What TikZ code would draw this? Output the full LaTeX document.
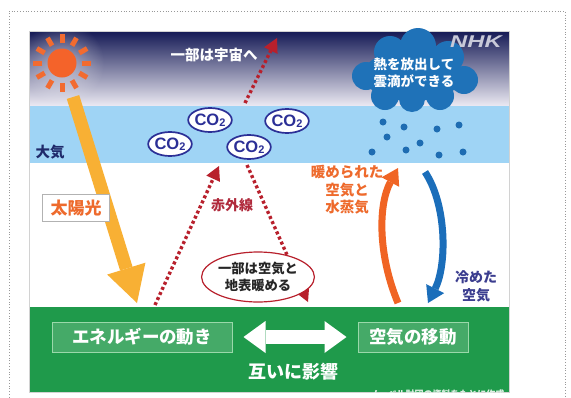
\documentclass[tikz,border=0pt]{standalone}
\usepackage{fontspec}
\newfontfamily\jp{Noto Sans CJK JP}
\newfontfamily\lat{Liberation Sans}
\usetikzlibrary{arrows.meta,shapes.geometric,calc,fadings}

\definecolor{skytop}{HTML}{141955}
\definecolor{skymid}{HTML}{5E629A}
\definecolor{skylow}{HTML}{ECEAF3}
\definecolor{airblue}{HTML}{9FD4F5}
\definecolor{ground}{HTML}{1F9A4B}
\definecolor{groundbox}{HTML}{45AA68}
\definecolor{groundedge}{HTML}{9AD8AA}
\definecolor{sunbody}{HTML}{F4632A}
\definecolor{sunray}{HTML}{F26B30}
\definecolor{sunbeam}{HTML}{F8B034}
\definecolor{irred}{HTML}{B8202C}
\definecolor{irtext}{HTML}{B02A3C}
\definecolor{cotwo}{HTML}{2B2F96}
\definecolor{cloudblue}{HTML}{1F72B8}
\definecolor{dropblue}{HTML}{1E6CB2}
\definecolor{warm}{HTML}{F06424}
\definecolor{warmtext}{HTML}{EE6A2C}
\definecolor{cool}{HTML}{1B6EBA}
\definecolor{cooltext}{HTML}{3B3D8F}
\definecolor{airtext}{HTML}{1F2A6B}
\definecolor{logo}{HTML}{C8C9D8}

\tikzfading[name=sunhalo, inner color=transparent!0, outer color=transparent!100]

\tikzset{
  jptext/.style={font=\jp\bfseries\fontsize{#1}{#1}\selectfont, align=center, inner sep=0pt},
  jptext/.default=14,
  co2/.style={ellipse, draw=cotwo, line width=1.7pt, fill=white, minimum width=42pt,
    minimum height=24pt, inner sep=0pt, text=cotwo, font=\lat\bfseries\fontsize{16.5}{16.5}\selectfont},
  irarrow/.style={draw=irred, line width=3.4pt, dash pattern=on 3pt off 2.6pt,
    -{Triangle[length=14pt,width=15pt,line width=0pt]}},
  greenbox/.style={draw=groundedge, line width=1pt, fill=groundbox, minimum height=30pt,
    text=white, jptext=17.5},
  drop/.style={fill=dropblue, draw=none, circle, minimum size=7pt, inner sep=0pt},
  ray/.style={draw=sunray, line width=5pt}
}
\newcommand{\cotwo}{CO\raisebox{-1.5pt}{\fontsize{11}{11}\selectfont 2}}

\begin{document}
\begin{tikzpicture}[x=1pt,y=-1pt]
\useasboundingbox (0,0) rectangle (571,397);

% outer dotted frame
\draw[gray!80, dotted, line width=0.8pt] (9,420) -- (9,11) -- (565,11) -- (565,420);

% bands: sky, atmosphere, open air, ground
\shade[top color=skytop, middle color=skymid, bottom color=skylow] (29,31) rectangle (509,106);
\fill[airblue] (29,106) rectangle (509,163);
\fill[white] (29,163) rectangle (509,307);
\fill[ground] (29,307) rectangle (509,392);
\draw[gray!35, line width=0.6pt] (29,31) rectangle (509,392);

% sun with a faint halo
\begin{scope}
  \clip (29,31) rectangle (509,106);
  \fill[white, opacity=0.45, path fading=sunhalo] (62,63) circle (42);
\end{scope}
\foreach \a in {0,30,...,330}
  \draw[ray] ($(62,63)+(\a:20)$) -- ($(62,63)+(\a:29)$);
\fill[sunbody] (62,63) circle (14.5);

% sunlight beam
\coordinate (beamstart) at (73,97);
\coordinate (beamend) at (137,303);
\draw[sunbeam, line width=13pt, -{Triangle[length=36pt,width=40pt,line width=0pt]}] (beamstart) -- (beamend);
\node[draw=gray!60, line width=0.8pt, fill=white, minimum width=67pt, minimum height=27pt,
  text=warmtext, jptext=17] (sunlabel) at (76,208) {太陽光};

% cloud
\begin{scope}[fill=cloudblue]
  \fill (413,75) ellipse (50 and 26);
  \fill (390,52) circle (16);
  \fill (418,46) circle (18);
  \fill (448,57) circle (16);
  \fill (366,76) circle (14);
  \fill (464,80) circle (14);
  \fill (385,96) circle (14);
  \fill (412,99) circle (13);
  \fill (440,96) circle (14);
\end{scope}
\node[text=white, jptext=13.5] (cloudtext) at (414,73) {熱を放出して\\[3pt]雲滴ができる};

% droplets
\foreach \p [count=\i] in {(383,122),(404,127),(387,137),(437,129),(459,125),
                           (420,143),(406,150),(372,152),(439,155),(463,152)}
  \node[drop] (drop\i) at \p {};

% logo
\node[text=logo, font=\lat\bfseries\itshape\fontsize{17}{17}\selectfont, xscale=1.4, inner sep=0pt]
  (nhk) at (476,42) {NHK};

% infrared paths
\coordinate (irfoot) at (155,305);
\coordinate (irtop) at (219,166);
\coordinate (downstart) at (247,165);
\coordinate (downend) at (308,302);
\coordinate (spacestart) at (245,103);
\coordinate (spaceend) at (277,38);
\draw[irarrow] (irfoot) -- (irtop);
\draw[irarrow] (downstart) -- (downend);
\draw[irarrow] (spacestart) -- (spaceend);

% CO2 molecules
\node[co2] (coA) at (210,120) {\cotwo};
\node[co2] (coB) at (170,144) {\cotwo};
\node[co2] (coC) at (249,147) {\cotwo};
\node[co2] (coD) at (287,121) {\cotwo};

% labels
\node[text=white, jptext=14.5] (space) at (214,55) {一部は宇宙へ};
\node[text=airtext, jptext=14.5] (atmos) at (50,152) {大気};
\node[text=irtext, jptext=14] (irlabel) at (232,205) {赤外線};
\node[ellipse, draw=irred, line width=1.2pt, fill=white, minimum width=100pt, minimum height=50pt,
  text=black!85, jptext=13.3] (warmpart) at (258,277) {一部は空気と\\[4pt]地表暖める};

% rising warm air and sinking cool air
\coordinate (warmfoot) at (398,303);
\coordinate (warmtip) at (398,168);
\coordinate (coolstart) at (425,172);
\coordinate (cooltip) at (428,303);
\draw[warm, line width=7pt, -{Triangle[length=16pt,width=20pt,line width=0pt]}]
  (warmfoot) .. controls (378,255) and (378,205) .. (warmtip);
\draw[cool, line width=7pt, -{Triangle[length=16pt,width=20pt,line width=0pt]}]
  (coolstart) .. controls (447,205) and (447,265) .. (cooltip);
\node[text=warmtext, jptext=14.5] (warmlabel) at (347,190) {暖められた\\[3pt]空気と\\[3pt]水蒸気};
\node[text=cooltext, jptext=14] (coollabel) at (476,286) {冷めた\\[4pt]空気};

% ground panel
\node[greenbox, minimum width=180pt] (energy) at (142,337) {エネルギーの動き};
\node[greenbox, minimum width=110pt] (airmove) at (413,337) {空気の移動};
\path (energy.east) ++(11,0) coordinate (linkL);
\path (airmove.west) ++(-11,0) coordinate (linkR);
\draw[white, line width=14pt, {Triangle[length=22pt,width=32pt,line width=0pt]}-{Triangle[length=22pt,width=32pt,line width=0pt]}]
  (linkL) -- (linkR);
\node[text=white, jptext=18] (mutual) at (293,372) {互いに影響};
\begin{scope}
  \clip (29,31) rectangle (509,392);
  \node[text=white!85!ground, jptext=9] (source) at (437,394) {ノーベル財団の資料をもとに作成};
\end{scope}
\end{tikzpicture}
\end{document}
